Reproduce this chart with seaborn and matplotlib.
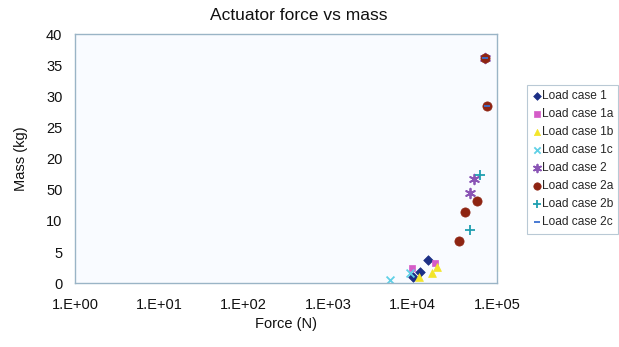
import matplotlib
matplotlib.use("Agg")
import matplotlib.pyplot as plt
import seaborn as sns
import pandas as pd
from matplotlib.ticker import FixedLocator, FixedFormatter, NullLocator

# ---- data ----
series_names = ["Load case 1", "Load case 1a", "Load case 1b", "Load case 1c",
                "Load case 2", "Load case 2a", "Load case 2b", "Load case 2c"]
force_1 = [10100, 12300, 15200]
mass_1 = [1.0, 1.8, 3.7]
force_1a = [9800, 18400]
mass_1a = [2.4, 3.2]
force_1b = [12000, 16900, 19200]
mass_1b = [1.0, 1.6, 2.6]
force_1c = [5400, 9300]
mass_1c = [0.5, 1.6]
force_2 = [48300, 53800, 72000]
mass_2 = [14.4, 16.8, 36.1]
force_2a = [35700, 42100, 57500, 72000, 76800]
mass_2a = [6.8, 11.5, 13.2, 36.1, 28.5]
force_2b = [47900, 62900]
mass_2b = [8.6, 17.3]
force_2c = [72000, 76800]
mass_2c = [36.1, 28.5]

y_ticks = [0, 5, 10, 15, 20, 25, 30, 35, 40]
y_tick_labels = ["0", "5", "10", "50", "20", "25", "30", "35", "40"]
x_ticks = [1, 10, 100, 1000, 10000, 100000]
x_tick_labels = ["1.E+00", "1.E+01", "1.E+02", "1.E+03", "1.E+04", "1.E+05"]

forces = [force_1, force_1a, force_1b, force_1c, force_2, force_2a, force_2b, force_2c]
masses = [mass_1, mass_1a, mass_1b, mass_1c, mass_2, mass_2a, mass_2b, mass_2c]

styles = {
    "Load case 1":  dict(marker="D", color="#1c2f86", s=24, filled=True),
    "Load case 1a": dict(marker="s", color="#d55cc8", s=24, filled=True),
    "Load case 1b": dict(marker="^", color="#f3e52a", s=32, filled=True),
    "Load case 1c": dict(marker="x", color="#5fd0e6", s=32, filled=False),
    "Load case 2":  dict(marker=(6, 2, 0), color="#8a55b5", s=48, filled=False),
    "Load case 2a": dict(marker="o", color="#8e2412", s=44, filled=True),
    "Load case 2b": dict(marker="+", color="#1f9fb0", s=48, filled=False),
    "Load case 2c": dict(marker="_", color="#3a6fd0", s=25, filled=False),
}

rows = []
for name, fx, my in zip(series_names, forces, masses):
    for f, m in zip(fx, my):
        rows.append({"series": name, "force": f, "mass": m})
df = pd.DataFrame(rows)

sns.set_style("white")
plt.rcParams["font.family"] = ["Liberation Sans", "DejaVu Sans"]

fig = plt.figure(figsize=(6.19, 3.47), dpi=100)
ax = fig.add_axes([0.121, 0.184, 0.682, 0.718])
ax.set_facecolor("#f9fbff")

for name in series_names:
    st = styles[name]
    sub = df[df["series"] == name]
    kw = dict(data=sub, x="force", y="mass", ax=ax, label=name,
              marker=st["marker"], s=st["s"], color=st["color"])
    if st["filled"]:
        kw.update(edgecolor=st["color"], linewidth=0.5)
    else:
        kw.update(linewidth=1.3)
    sns.scatterplot(**kw)

ax.set_xscale("log")
ax.set_xlim(1, 100000)
ax.set_ylim(0, 40)
ax.xaxis.set_major_locator(FixedLocator(x_ticks))
ax.xaxis.set_major_formatter(FixedFormatter(x_tick_labels))
ax.xaxis.set_minor_locator(NullLocator())
ax.yaxis.set_major_locator(FixedLocator(y_ticks))
ax.yaxis.set_major_formatter(FixedFormatter(y_tick_labels))

for sp in ax.spines.values():
    sp.set_color("#9ab4c6")
    sp.set_linewidth(1.0)

ax.tick_params(axis="both", which="major", length=4, width=0.8, color="#c0ccd4",
               labelsize=10.5, labelcolor="#111111", direction="out")
ax.tick_params(axis="x", pad=7)
ax.tick_params(axis="y", pad=5)
ax.set_xlabel("Force (N)", fontsize=10.5, labelpad=3, color="#111111")
ax.set_ylabel("Mass (kg)", fontsize=10.5, labelpad=13, color="#111111")
ax.set_title("Actuator force vs mass", fontsize=12.5, pad=10, color="#111111", x=0.53)

leg = ax.legend(loc="upper left", bbox_to_anchor=(0.851, 0.755),
                bbox_transform=fig.transFigure, frameon=True, fontsize=8.6,
                handletextpad=0.0, labelspacing=0.5, borderpad=0.45,
                handlelength=0.8, fancybox=False, markerscale=0.8,
                borderaxespad=0)
leg.get_frame().set_edgecolor("#a8bccb")
leg.get_frame().set_linewidth(0.8)

fig.savefig("out.png", dpi=100)
